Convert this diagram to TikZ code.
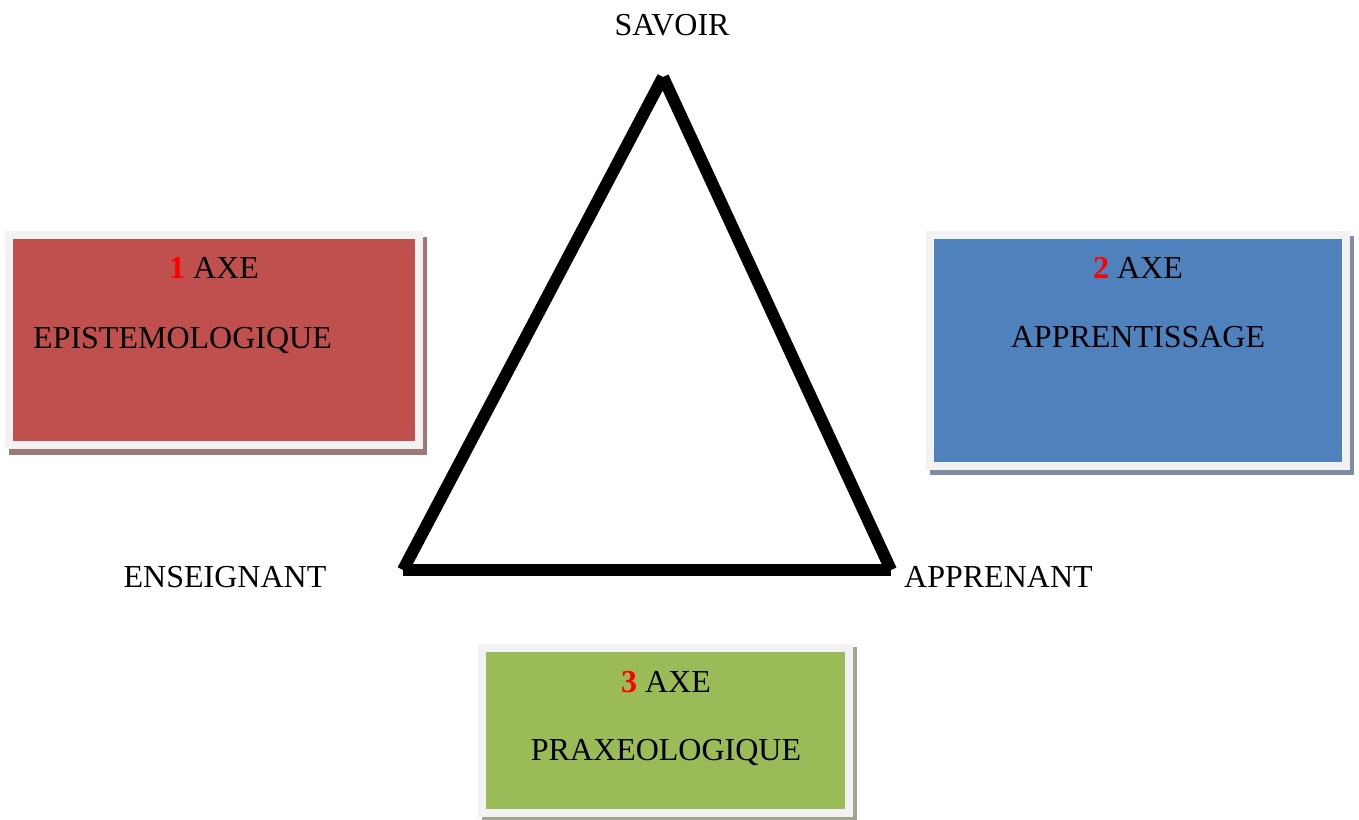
\documentclass[tikz,border=0pt]{standalone}
\usepackage{fontspec}
\setmainfont{Liberation Serif}
\usetikzlibrary{shadows,positioning}

\definecolor{boxred}{HTML}{C0504D}
\definecolor{boxblue}{HTML}{4F81BD}
\definecolor{boxgreen}{HTML}{9BBB59}
\definecolor{framegray}{HTML}{F2F2F2}
\definecolor{shadowred}{HTML}{9E7878}
\definecolor{shadowblue}{HTML}{7E8CA6}
\definecolor{shadowgreen}{HTML}{A2A690}

\begin{document}
\begin{tikzpicture}[x=1pt, y=-1pt]
    \tikzstyle{side} = [line width=12pt, line cap=butt]
    \tikzstyle{axebox} = [rectangle, draw=framegray, line width=8pt,
        anchor=north west]
    \tikzstyle{txt} = [inner sep=0pt, font=\fontsize{32}{38}\selectfont]

    \useasboundingbox (0,0) rectangle (1359,819);

    \node(epistemo) [axebox, fill=boxred, minimum width=410pt,
        minimum height=210pt,
        drop shadow={shadow xshift=3.5pt, shadow yshift=-6pt, opacity=1,
        fill=shadowred, draw=shadowred, line width=8pt}]
        at (5,231) {};
    \node(apprent) [axebox, fill=boxblue, minimum width=416pt,
        minimum height=231pt,
        drop shadow={shadow xshift=3.5pt, shadow yshift=-5pt, opacity=1,
        fill=shadowblue, draw=shadowblue, line width=8pt}]
        at (926,231) {};
    \node(praxeo) [axebox, fill=boxgreen, minimum width=367pt,
        minimum height=165pt,
        drop shadow={shadow xshift=4pt, shadow yshift=-3pt, opacity=1,
        fill=shadowgreen, draw=shadowgreen, line width=8pt}]
        at (478,644) {};

    \node(axeone) [txt, anchor=base] at (214,278)
        {\textcolor{red}{\textbf{1}} AXE};
    \node(epistemotxt) [txt, anchor=base west] at (33,348)
        {EPISTEMOLOGIQUE};
    \node(axetwo) [txt, anchor=base] at (1138,278)
        {\textcolor{red}{\textbf{2}} AXE};
    \node(apprenttxt) [txt, anchor=base] at (1138,347)
        {APPRENTISSAGE};
    \node(axethree) [txt, anchor=base] at (666,692)
        {\textcolor{red}{\textbf{3}} AXE};
    \node(praxeotxt) [txt, anchor=base] at (666,760)
        {PRAXEOLOGIQUE};

    \coordinate(savoirpt) at (663,77);
    \coordinate(enseignpt) at (403,570);
    \coordinate(apprenpt) at (891,570);

    \node(savoir) [txt, anchor=base] at (672,35) {SAVOIR};
    \node(enseignant) [txt, anchor=base] at (225,587) {ENSEIGNANT};
    \node(apprenant) [txt, anchor=base west] at (904,587) {APPRENANT};

    \draw[side] (savoirpt) -- (enseignpt);
    \draw[side] (savoirpt) -- (apprenpt);
    \draw[side] (enseignpt) -- (apprenpt);
\end{tikzpicture}
\end{document}
